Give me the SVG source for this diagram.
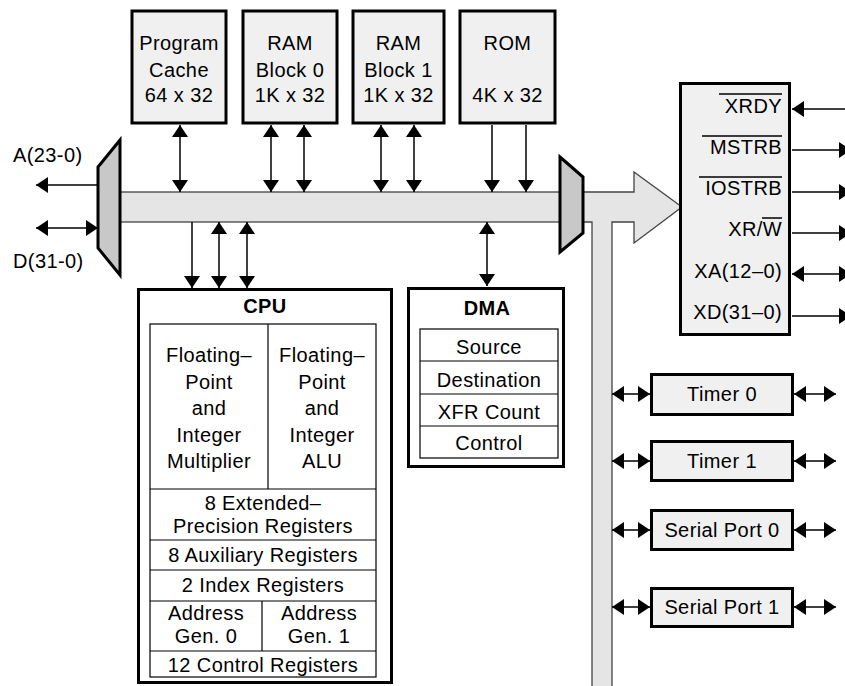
<svg xmlns="http://www.w3.org/2000/svg" width="845" height="686" viewBox="0 0 845 686">
<style>
text{font-family:"Liberation Sans",Arial,Helvetica,sans-serif;font-size:20px;letter-spacing:0.4px;fill:#000}
.c{text-anchor:middle}
.r{text-anchor:end}
.b{font-weight:bold}
.box{fill:#f0f0f0;stroke:#000;stroke-width:3}
.wbox{fill:#fff;stroke:#000;stroke-width:3}
.cell{fill:none;stroke:#000;stroke-width:1.2}
.bus{fill:#e5e5e5;stroke:#444;stroke-width:1.3}
.mux{fill:#c8c8c8;stroke:#000;stroke-width:3;stroke-linejoin:miter}
.ln{stroke:#000;stroke-width:1.5;fill:none}
.ov{stroke:#000;stroke-width:1.5}
</style>
<defs>
<marker id="ah" markerUnits="userSpaceOnUse" markerWidth="13" markerHeight="16" refX="12" refY="8" orient="auto-start-reverse" viewBox="0 0 13 16">
<path d="M0,0 L12,8 L0,16 z" fill="#000"/>
</marker>
</defs>

<g id="bus">
<rect class="bus" x="118" y="192" width="445" height="30"/>
<polygon class="bus" points="581,192 634,192 634,172 682,207 634,243 634,222 612,222 612,690 592,690 592,222 581,222"/>
</g>

<g id="connectors">
<line class="ln" x1="98" y1="185" x2="36" y2="185" marker-end="url(#ah)"/>
<line class="ln" x1="36" y1="228" x2="98" y2="228" marker-start="url(#ah)" marker-end="url(#ah)"/>
<line class="ln" x1="180" y1="125" x2="180" y2="192" marker-start="url(#ah)" marker-end="url(#ah)"/>
<line class="ln" x1="271" y1="125" x2="271" y2="192" marker-start="url(#ah)" marker-end="url(#ah)"/>
<line class="ln" x1="304" y1="125" x2="304" y2="192" marker-start="url(#ah)" marker-end="url(#ah)"/>
<line class="ln" x1="381" y1="125" x2="381" y2="192" marker-start="url(#ah)" marker-end="url(#ah)"/>
<line class="ln" x1="414" y1="125" x2="414" y2="192" marker-start="url(#ah)" marker-end="url(#ah)"/>
<line class="ln" x1="492" y1="125" x2="492" y2="192" marker-end="url(#ah)"/>
<line class="ln" x1="526" y1="125" x2="526" y2="192" marker-end="url(#ah)"/>
<line class="ln" x1="192" y1="222" x2="192" y2="288" marker-end="url(#ah)"/>
<line class="ln" x1="219" y1="222" x2="219" y2="288" marker-start="url(#ah)" marker-end="url(#ah)"/>
<line class="ln" x1="247" y1="222" x2="247" y2="288" marker-start="url(#ah)" marker-end="url(#ah)"/>
<line class="ln" x1="487" y1="222" x2="487" y2="286" marker-start="url(#ah)" marker-end="url(#ah)"/>
<line class="ln" x1="850" y1="109" x2="792" y2="109" marker-end="url(#ah)"/>
<line class="ln" x1="792" y1="150" x2="851" y2="150" marker-end="url(#ah)"/>
<line class="ln" x1="792" y1="192" x2="851" y2="192" marker-end="url(#ah)"/>
<line class="ln" x1="792" y1="233" x2="851" y2="233" marker-end="url(#ah)"/>
<line class="ln" x1="792" y1="274" x2="851" y2="274" marker-start="url(#ah)" marker-end="url(#ah)"/>
<line class="ln" x1="792" y1="316" x2="851" y2="316" marker-end="url(#ah)"/>
<line class="ln" x1="612" y1="394" x2="650" y2="394" marker-start="url(#ah)" marker-end="url(#ah)"/>
<line class="ln" x1="612" y1="461" x2="650" y2="461" marker-start="url(#ah)" marker-end="url(#ah)"/>
<line class="ln" x1="612" y1="530" x2="650" y2="530" marker-start="url(#ah)" marker-end="url(#ah)"/>
<line class="ln" x1="612" y1="607" x2="650" y2="607" marker-start="url(#ah)" marker-end="url(#ah)"/>
<line class="ln" x1="794" y1="394" x2="836" y2="394" marker-start="url(#ah)" marker-end="url(#ah)"/>
<line class="ln" x1="794" y1="461" x2="836" y2="461" marker-start="url(#ah)" marker-end="url(#ah)"/>
<line class="ln" x1="794" y1="530" x2="836" y2="530" marker-start="url(#ah)" marker-end="url(#ah)"/>
<line class="ln" x1="794" y1="607" x2="836" y2="607" marker-start="url(#ah)" marker-end="url(#ah)"/>
</g>

<g id="mux-left">
<polygon class="mux" points="98,167 120,140 120,275 98,248"/>
</g>
<g id="mux-right">
<polygon class="mux" points="560,157 583,177 583,233 560,252"/>
</g>

<g id="labels-ad">
<text x="13" y="162">A(23-0)</text>
<text x="13" y="268">D(31-0)</text>
</g>

<g id="program-cache">
<rect class="box" x="132" y="11" width="94" height="112"/>
<text class="c" x="179" y="50">Program</text>
<text class="c" x="179" y="77">Cache</text>
<text class="c" x="179" y="102">64 x 32</text>
</g>
<g id="ram0">
<rect class="box" x="243" y="11" width="94" height="112"/>
<text class="c" x="290" y="50">RAM</text>
<text class="c" x="290" y="77">Block 0</text>
<text class="c" x="290" y="102">1K x 32</text>
</g>
<g id="ram1">
<rect class="box" x="353" y="11" width="91" height="112"/>
<text class="c" x="398.5" y="50">RAM</text>
<text class="c" x="398.5" y="77">Block 1</text>
<text class="c" x="398.5" y="102">1K x 32</text>
</g>
<g id="rom">
<rect class="box" x="460" y="11" width="95" height="112"/>
<text class="c" x="507.5" y="50">ROM</text>
<text class="c" x="507.5" y="102">4K x 32</text>
</g>

<g id="cpu">
<rect class="wbox" x="138.5" y="289.5" width="253" height="393"/>
<text class="c b" x="265" y="313">CPU</text>
<rect class="cell" x="150" y="324" width="226" height="353"/>
<line class="cell" x1="268" y1="324" x2="268" y2="489"/>
<line class="cell" x1="150" y1="489" x2="376" y2="489"/>
<line class="cell" x1="150" y1="540" x2="376" y2="540"/>
<line class="cell" x1="150" y1="570" x2="376" y2="570"/>
<line class="cell" x1="150" y1="601" x2="376" y2="601"/>
<line class="cell" x1="262" y1="601" x2="262" y2="651"/>
<line class="cell" x1="150" y1="651" x2="376" y2="651"/>
<text class="c" x="209" y="362">Floating–</text>
<text class="c" x="209" y="388.5">Point</text>
<text class="c" x="209" y="415">and</text>
<text class="c" x="209" y="441.5">Integer</text>
<text class="c" x="209" y="468">Multiplier</text>
<text class="c" x="322" y="362">Floating–</text>
<text class="c" x="322" y="388.5">Point</text>
<text class="c" x="322" y="415">and</text>
<text class="c" x="322" y="441.5">Integer</text>
<text class="c" x="322" y="468">ALU</text>
<text class="c" x="263" y="510">8 Extended–</text>
<text class="c" x="263" y="533">Precision Registers</text>
<text class="c" x="263" y="562">8 Auxiliary Registers</text>
<text class="c" x="263" y="592">2 Index Registers</text>
<text class="c" x="206" y="620">Address</text>
<text class="c" x="206" y="643">Gen. 0</text>
<text class="c" x="319" y="620">Address</text>
<text class="c" x="319" y="643">Gen. 1</text>
<text class="c" x="263" y="672">12 Control Registers</text>
</g>

<g id="dma">
<rect class="wbox" x="408.5" y="288.5" width="155" height="178"/>
<text class="c b" x="487" y="315">DMA</text>
<rect class="cell" x="420" y="329" width="138" height="129"/>
<line class="cell" x1="420" y1="361" x2="558" y2="361"/>
<line class="cell" x1="420" y1="394" x2="558" y2="394"/>
<line class="cell" x1="420" y1="426" x2="558" y2="426"/>
<text class="c" x="489" y="354">Source</text>
<text class="c" x="489" y="387">Destination</text>
<text class="c" x="489" y="419">XFR Count</text>
<text class="c" x="489" y="450">Control</text>
</g>

<g id="ext-interface">
<rect class="box" x="680.5" y="83.5" width="109" height="251"/>
<text class="r" x="782" y="113">XRDY</text>
<line class="ov" x1="719" y1="94" x2="782" y2="94"/>
<text class="r" x="782" y="154">MSTRB</text>
<line class="ov" x1="702" y1="136" x2="782" y2="136"/>
<text class="r" x="782" y="195">IOSTRB</text>
<line class="ov" x1="699" y1="177" x2="782" y2="177"/>
<text class="r" x="782" y="236">XR/W</text>
<line class="ov" x1="762" y1="218" x2="782" y2="218"/>
<text class="r" x="782" y="278">XA(12–0)</text>
<text class="r" x="782" y="319">XD(31–0)</text>
</g>

<g id="timer0">
<rect class="box" x="651.5" y="374.5" width="141" height="40"/>
<text class="c" x="722" y="401">Timer 0</text>
</g>
<g id="timer1">
<rect class="box" x="651.5" y="441.5" width="141" height="39"/>
<text class="c" x="722" y="468">Timer 1</text>
</g>
<g id="serial0">
<rect class="box" x="651.5" y="510.5" width="141" height="39"/>
<text class="c" x="722" y="537">Serial Port 0</text>
</g>
<g id="serial1">
<rect class="box" x="651.5" y="588.5" width="141" height="38"/>
<text class="c" x="722" y="614">Serial Port 1</text>
</g>
</svg>
